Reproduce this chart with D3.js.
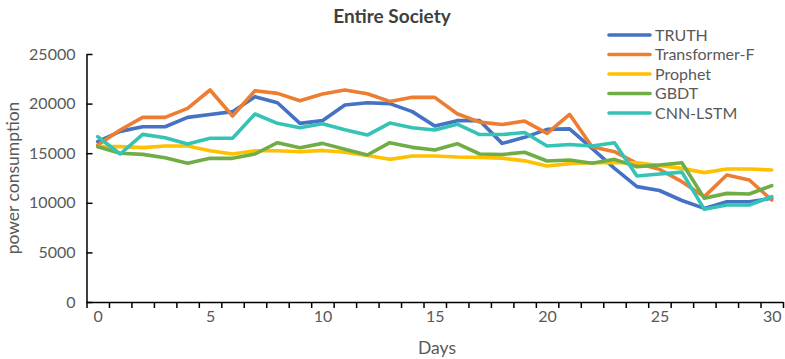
<!DOCTYPE html>
<html><head><meta charset="utf-8">
<script src="https://cdn.jsdelivr.net/npm/d3@7"></script>
<style>body{margin:0;background:#fff}svg{display:block}</style>
</head><body><svg id="c" width="785" height="359"></svg>
<script>
const days = d3.range(0, 31);
const seriesNames = ["TRUTH", "Transformer-F", "Prophet", "GBDT", "CNN-LSTM"];
const seriesColors = ["#4472C4", "#ED7D31", "#FFC000", "#70AD47", "#35C3B5"];
const truth = [16160,17200,17670,17670,18610,18910,19190,20700,20090,18010,18280,19860,20090,20000,19190,17740,18280,18280,15990,16600,17400,17450,15490,13470,11630,11240,10230,9440,10110,10110,10450];
const transformerF = [15830,17340,18610,18610,19520,21370,18750,21300,21030,20290,20960,21370,21000,20220,20630,20630,18980,18130,17890,18240,17000,18920,15660,15150,13980,13370,12130,10620,12800,12300,10280];
const prophet = [15660,15660,15560,15720,15720,15250,14920,15250,15250,15150,15280,15100,14770,14380,14720,14720,14620,14580,14500,14230,13710,13950,14040,14040,14040,13760,13470,13040,13400,13400,13310];
const gbdt = [15660,14990,14880,14550,13980,14480,14480,14920,16060,15560,15990,15400,14820,16060,15590,15320,15960,14920,14870,15100,14210,14320,13980,14380,13640,13810,14040,10450,10950,10890,11730];
const cnnLstm = [16670,14920,16900,16560,15930,16500,16500,18950,18010,17570,17970,17370,16830,18040,17570,17340,17920,16880,16880,17080,15720,15880,15720,16060,12700,12900,13090,9340,9780,9780,10620];
const yTicks = [0,5000,10000,15000,20000,25000];
const xLabels = [0,5,10,15,20,25,30];

const allSeries = [truth, transformerF, prophet, gbdt, cnnLstm];
const svg = d3.select("#c");
const font = "Lato, 'Open Sans', sans-serif";
const txt = "#595959";

const x = d3.scaleLinear().domain([-0.5, 30.5]).range([86.5, 783]);
const y = d3.scaleLinear().domain([0, 25000]).range([302, 54]);

const gx = svg.append("g").attr("transform", "translate(0,302)")
  .call(d3.axisBottom(x).tickValues(d3.range(-0.5, 31, 1)).tickFormat("").tickSize(6).tickSizeOuter(0));
gx.selectAll("line").attr("stroke", "#000").attr("stroke-width", 1.5);
gx.select(".domain").attr("stroke", "#000").attr("stroke-width", 1.5);

const gxl = svg.append("g").attr("transform", "translate(0,302)")
  .call(d3.axisBottom(x).tickValues(xLabels).tickFormat(d3.format("d")).tickSize(0).tickPadding(9));
gxl.select(".domain").remove();
gxl.selectAll("text").attr("font-family", font).attr("font-size", 16).attr("fill", txt);

const gy = svg.append("g").attr("transform", "translate(86.5,0)")
  .call(d3.axisLeft(y).tickValues(yTicks).tickFormat(d3.format("d")).tickSize(-6).tickSizeOuter(0).tickPadding(11));
gy.selectAll("line").attr("stroke", "#000").attr("stroke-width", 1.5);
gy.select(".domain").attr("stroke", "#000").attr("stroke-width", 1.5);
gy.selectAll("text").attr("font-family", font).attr("font-size", 16).attr("fill", txt);

const line = d3.line().x((d, i) => x(days[i])).y(d => y(d));
allSeries.forEach((s, k) => {
  svg.append("path").datum(s).attr("d", line).attr("fill", "none")
    .attr("stroke", seriesColors[k]).attr("stroke-width", 3.6)
    .attr("stroke-linejoin", "round").attr("stroke-linecap", "round");
});

svg.append("text").attr("x", 392).attr("y", 23).attr("text-anchor", "middle")
  .attr("font-family", font).attr("font-weight", "bold").attr("font-size", 19).attr("fill", "#404040")
  .text("Entire Society");

svg.append("text").attr("x", 437).attr("y", 354).attr("text-anchor", "middle")
  .attr("font-family", font).attr("font-size", 17.5).attr("fill", txt).text("Days");
svg.append("text").attr("transform", "translate(19,178) rotate(-90)").attr("text-anchor", "middle")
  .attr("font-family", font).attr("font-size", 17.5).attr("fill", txt).text("power consumption");

const lg = svg.append("g");
seriesNames.forEach((n, k) => {
  const yy = 35 + k * 19.5;
  lg.append("line").attr("x1", 609).attr("x2", 650).attr("y1", yy).attr("y2", yy)
    .attr("stroke", seriesColors[k]).attr("stroke-width", 3.6).attr("stroke-linecap", "round");
  lg.append("text").attr("x", 655).attr("y", yy).attr("dy", "0.35em")
    .attr("font-family", font).attr("font-size", 16).attr("fill", txt).text(n);
});
</script></body></html>
